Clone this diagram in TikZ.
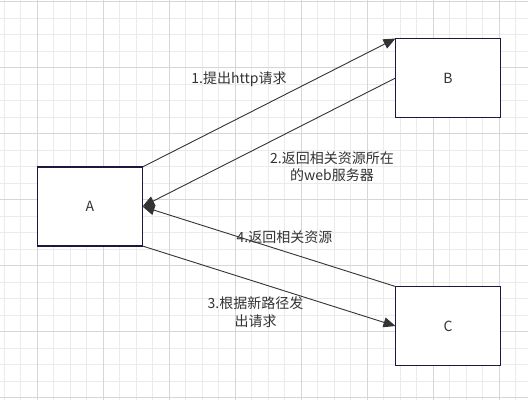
\documentclass[tikz,border=0pt]{standalone}
\usepackage{fontspec}
\setmainfont{Noto Sans CJK SC}
\usetikzlibrary{arrows.meta}
\definecolor{gridminor}{HTML}{EBEBEB}
\definecolor{gridmajor}{HTML}{D6D6D6}
\definecolor{boxline}{HTML}{1A1A40}
\definecolor{ink}{HTML}{333333}
\tikzset{
  box/.style={draw=boxline, line width=1.1pt, minimum width=105pt, minimum height=79pt,
    inner sep=0pt, outer sep=0pt, text=ink, font=\fontsize{14}{16}\selectfont},
  msg/.style={draw=ink, line width=0.9pt, -{Triangle[length=12pt,width=10pt]}},
  lbl/.style={text=ink, align=center, inner sep=0pt, font=\fontsize{14}{17.3}\selectfont},
}

\begin{document}
\begin{tikzpicture}[x=1pt,y=-1pt]
        \useasboundingbox (0,0) rectangle (528,400);
        \fill[white] (0,0) rectangle (528,400);
        % draw the grid
        \foreach \i in {0,...,31}
                \draw[gridminor, line width=0.8pt] ({4.3+16.5*\i},0) -- ({4.3+16.5*\i},400);
        \foreach \i in {0,...,24}
                \draw[gridminor, line width=0.8pt] (0,{1.7+16.5*\i}) -- (528,{1.7+16.5*\i});
        \foreach \i in {0,...,7}
                \draw[gridmajor, line width=0.8pt] ({37.3+66*\i},0) -- ({37.3+66*\i},400);
        \foreach \i in {0,...,6}
                \draw[gridmajor, line width=0.8pt] (0,{1.7+66*\i}) -- (528,{1.7+66*\i});
        % the three servers
        \node[box,fill=white] (A) at (90,206.5) {A};
        \node[box,fill=white] (B) at (448,78) {B};
        \node[box,fill=white] (C) at (448,326) {C};
        % draw the requests and answers
        \draw[msg] (A.north east) -- (B.north west);
        \draw[msg] (B.west) -- (A.east);
        \draw[msg] (A.south east) -- (C.west);
        \draw[msg] (C.north west) -- (A.east);
        % labels
        \node[lbl] (req) at (239,79) {1.提出http请求};
        \node[lbl] (back) at (332,166.4) {2.返回相关资源所在\\的web服务器};
        \node[lbl] (newreq) at (255.5,312.2) {3.根据新路径发\\出请求};
        \node[lbl] (res) at (284.5,237.5) {4.返回相关资源};
\end{tikzpicture}
\end{document}
